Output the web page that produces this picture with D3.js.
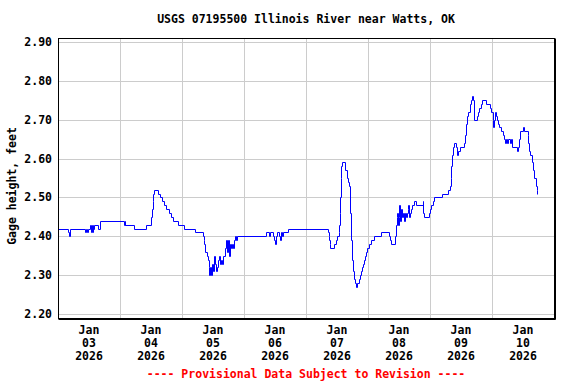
<!DOCTYPE html>
<html><head><meta charset="utf-8">
<script src="https://cdn.jsdelivr.net/npm/d3@7"></script>
<style>
body{margin:0;background:#fff}
svg{display:block}
text{font-family:"DejaVu Sans Mono","Liberation Mono",monospace;font-weight:bold;font-size:11.5px}
</style>
</head><body>
<svg id="c" width="576" height="384"></svg>
<script>
const title = "USGS 07195500 Illinois River near Watts, OK";
const yTitle = "Gage height, feet";
const footer = "---- Provisional Data Subject to Revision ----";
const startDate = "2026-01-03T00:00:00Z";
const endDate = "2026-01-11T00:00:00Z";
const yTicks = [2.20, 2.30, 2.40, 2.50, 2.60, 2.70, 2.80, 2.90];
const dayMonths = ["Jan","Jan","Jan","Jan","Jan","Jan","Jan","Jan"];
const dayNums = ["03","04","05","06","07","08","09","10"];
const dayYears = ["2026","2026","2026","2026","2026","2026","2026","2026"];
// hours since Jan 03 2026 00:00
const hours = [0,3.9,4.3,4.6,10.5,10.8,11.4,11.8,12.2,12.6,13.0,13.4,13.7,14.1,15.3,16.3,25.4,25.8,26.1,29.6,33.9,
36.0,36.3,36.6,36.9,37.2,38.7,39.3,40.1,40.9,41.8,42.8,43.8,44.7,46.3,48.7,53.0,
56.2,56.4,56.7,56.9,57.5,58.1,58.3,58.5,58.9,59.1,59.6,60.0,60.4,60.8,61.2,61.6,62.0,62.4,62.7,63.1,
63.5,63.9,64.7,65.1,65.5,65.8,66.2,66.6,67.0,67.4,67.8,68.2,68.6,68.9,69.3,
80.4,81.5,82.1,83.1,83.7,84.0,84.4,84.8,85.4,86.0,86.4,86.8,87.1,89.0,104.6,104.8,105.0,105.2,105.4,106.8,
107.5,108.1,108.6,108.9,109.1,109.3,109.5,109.7,110.0,111.2,111.9,112.4,112.8,113.0,113.4,113.8,114.2,114.6,115.0,115.2,
115.8,116.4,117.0,117.4,117.7,118.1,118.5,118.9,119.3,119.7,120.3,121.0,122.2,125.2,128.1,128.6,129.0,130.5,
130.7,131.1,131.4,131.6,131.9,132.1,132.4,132.6,133.0,133.4,133.8,134.2,134.6,135.0,135.4,135.6,136.0,136.4,136.8,137.2,
137.7,138.7,141.1,141.4,141.8,143.6,144.0,144.5,145.0,145.4,148.5,151.1,151.6,152.0,152.3,152.5,152.8,153.2,154.1,154.3,
154.7,155.7,157.2,157.6,157.9,158.3,158.9,159.4,160.0,160.4,160.8,161.0,162.1,162.6,163.0,163.6,164.3,165.8,167.4,167.8,
168.2,168.4,168.7,169.1,169.4,169.8,170.3,170.9,171.3,172.3,172.8,173.0,173.4,173.8,174.2,175.0,175.3,175.6,177.7,178.2,
178.5,178.9,179.9,180.4,181.8,182.1,182.5,182.9,183.4,183.9,184.4,184.9,185.3,185.6];
const gage = [2.42,2.41,2.40,2.42,2.41,2.42,2.41,2.42,2.43,2.41,2.43,2.41,2.42,2.43,2.42,2.44,2.43,2.44,2.43,2.42,2.43,
2.45,2.47,2.49,2.51,2.52,2.51,2.50,2.49,2.48,2.47,2.46,2.45,2.44,2.43,2.42,2.41,
2.40,2.39,2.38,2.36,2.35,2.34,2.32,2.30,2.32,2.30,2.33,2.31,2.35,2.33,2.31,2.32,2.34,2.35,2.33,2.34,
2.33,2.35,2.37,2.39,2.36,2.39,2.35,2.38,2.37,2.38,2.37,2.39,2.40,2.39,2.40,
2.41,2.40,2.41,2.40,2.39,2.38,2.40,2.41,2.40,2.39,2.41,2.40,2.41,2.42,2.41,2.40,2.39,2.38,2.37,2.38,
2.39,2.40,2.41,2.43,2.46,2.50,2.55,2.58,2.59,2.57,2.55,2.54,2.53,2.46,2.39,2.34,2.31,2.29,2.28,2.27,
2.28,2.29,2.30,2.31,2.32,2.33,2.34,2.35,2.36,2.37,2.38,2.39,2.40,2.41,2.40,2.39,2.38,2.40,
2.43,2.45,2.46,2.43,2.45,2.48,2.44,2.47,2.45,2.46,2.44,2.46,2.45,2.46,2.47,2.48,2.45,2.46,2.47,2.48,
2.49,2.48,2.49,2.46,2.45,2.46,2.47,2.48,2.49,2.50,2.51,2.52,2.53,2.55,2.58,2.61,2.63,2.64,2.63,2.61,
2.62,2.63,2.64,2.66,2.69,2.71,2.72,2.74,2.75,2.76,2.75,2.70,2.71,2.72,2.73,2.74,2.75,2.74,2.73,2.72,
2.70,2.68,2.70,2.72,2.71,2.70,2.69,2.68,2.67,2.66,2.65,2.64,2.65,2.64,2.65,2.64,2.65,2.63,2.62,2.63,
2.65,2.67,2.68,2.67,2.66,2.64,2.62,2.61,2.59,2.57,2.55,2.53,2.52,2.51];

const svg = d3.select("#c");
const L = 58, R = 554, T = 38, B = 318;
const t0 = new Date(startDate), t1 = new Date(endDate);
const x = d3.scaleUtc().domain([t0, t1]).range([L, R]);
const y = d3.scaleLinear().domain([2.19, 2.91]).range([B, T]);
const px = v => Math.round(v) + 0.5;

svg.append("rect").attr("width", 576).attr("height", 384).attr("fill", "#fff");

// grid
const days = d3.utcDay.range(t0, t1);
svg.append("g").selectAll("line").data(days.slice(1)).join("line")
  .attr("x1", d => px(x(d))).attr("x2", d => px(x(d)))
  .attr("y1", T).attr("y2", B)
  .attr("stroke", "#cccccc").attr("stroke-width", 1);
svg.append("g").selectAll("line").data(yTicks).join("line")
  .attr("x1", L).attr("x2", R)
  .attr("y1", d => px(y(d))).attr("y2", d => px(y(d)))
  .attr("stroke", "#cccccc").attr("stroke-width", 1);

// data line
const data = hours.map((h, i) => ({t: new Date(t0.getTime() + h * 3600e3), v: gage[i]}));
const line = d3.line().x(d => px(x(d.t))).y(d => px(y(d.v))).curve(d3.curveStepAfter);
svg.append("path").datum(data).attr("d", line)
  .attr("fill", "none").attr("stroke", "#0000ff").attr("stroke-width", 1);

// frame (right and bottom edges slightly heavier)
svg.append("rect").attr("x", L + 0.5).attr("y", T + 0.5).attr("width", R - L).attr("height", B - T)
  .attr("fill", "none").attr("stroke", "#000").attr("stroke-width", 1);
svg.append("path").attr("d", `M${L + 0.5},${B + 1.5}H${R + 1.5}V${T + 0.5}`)
  .attr("fill", "none").attr("stroke", "#000").attr("stroke-width", 1);

// y tick labels
svg.append("g").selectAll("text").data(yTicks).join("text")
  .attr("x", 52).attr("y", d => y(d) + 4).attr("text-anchor", "end")
  .text(d => d3.format(".2f")(d));

// x labels
const g = svg.append("g").selectAll("g").data(days).join("g")
  .attr("transform", d => `translate(${x(new Date(d.getTime() + 12 * 3600e3))},0)`);
g.append("text").attr("y", 334).attr("text-anchor", "middle").text((d, i) => dayMonths[i]);
g.append("text").attr("y", 347).attr("text-anchor", "middle").text((d, i) => dayNums[i]);
g.append("text").attr("y", 360).attr("text-anchor", "middle").text((d, i) => dayYears[i]);

// titles
svg.append("text").attr("x", (L + R) / 2).attr("y", 23).attr("text-anchor", "middle").text(title);
svg.append("text").attr("transform", `translate(16,${(T + B) / 2 + 8}) rotate(-90)`)
  .attr("text-anchor", "middle").text(yTitle);
svg.append("text").attr("x", (L + R) / 2).attr("y", 378).attr("text-anchor", "middle")
  .attr("fill", "#ff0000").text(footer);
</script>
</body></html>
